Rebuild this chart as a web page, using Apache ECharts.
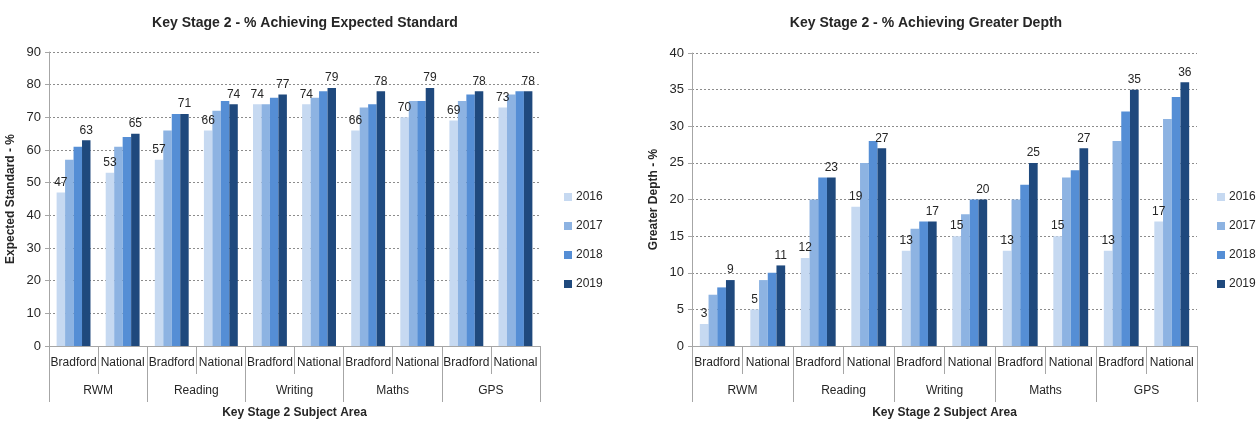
<!DOCTYPE html>
<html>
<head>
<meta charset="utf-8">
<script src="https://cdn.jsdelivr.net/npm/echarts@6/dist/echarts.min.js"></script>
<style>
html, body { margin: 0; padding: 0; background: #fff; }
#chart { width: 1257px; height: 421px; }
</style>
</head>
<body>
<div id="chart"></div>
<script>
// sub categories and subject groups
const areas = ['Bradford', 'National', 'Bradford', 'National', 'Bradford', 'National', 'Bradford', 'National', 'Bradford', 'National'];
const subjects = ['RWM', 'Reading', 'Writing', 'Maths', 'GPS'];
const years = ['2016', '2017', '2018', '2019'];

// % achieving expected standard
const exp2016 = [47, 53, 57, 66, 74, 74, 66, 70, 69, 73];
const exp2017 = [57, 61, 66, 72, 74, 76, 73, 75, 75, 77];
const exp2018 = [61, 64, 71, 75, 76, 78, 74, 75, 77, 78];
const exp2019 = [63, 65, 71, 74, 77, 79, 78, 79, 78, 78];

// % achieving greater depth
const gd2016 = [3, 5, 12, 19, 13, 15, 13, 15, 13, 17];
const gd2017 = [7, 9, 20, 25, 16, 18, 20, 23, 28, 31];
const gd2018 = [8, 10, 23, 28, 17, 20, 22, 24, 32, 34];
const gd2019 = [9, 11, 23, 27, 17, 20, 25, 27, 35, 36];

const colors = ['#c6d9f1', '#8db3e2', '#558ed5', '#1f497d'];
const font = "'Liberation Sans Narrow', 'Liberation Sans', sans-serif";
const textColor = '#262626';
const lineColor = '#a6a6a6';

const myChart = echarts.init(document.getElementById('chart'));

function makeSeries(gridIdx, sets) {
    return sets.map((data, i) => ({
        name: years[i],
        type: 'bar',
        xAxisIndex: gridIdx * 2,
        yAxisIndex: gridIdx,
        barGap: '0%',
        barCategoryGap: '31%',
        itemStyle: { color: colors[i] },
        label: {
            show: i === 0 || i === 3,
            position: 'top',
            distance: 4,
            color: textColor,
            fontSize: 12,
            fontFamily: font
        },
        data: data
    }));
}

function xAxes(gridIdx) {
    return [
        {
            type: 'category',
            gridIndex: gridIdx,
            data: areas,
            axisLine: { show: true, lineStyle: { color: lineColor } },
            axisTick: { show: true, length: 28, interval: 0, lineStyle: { color: lineColor } },
            axisLabel: { interval: 0, margin: 11, color: textColor, fontSize: 12, fontFamily: font }
        },
        {
            type: 'category',
            gridIndex: gridIdx,
            position: 'bottom',
            data: subjects,
            axisLine: { show: false },
            axisTick: { show: true, length: 56, interval: 0, lineStyle: { color: lineColor } },
            axisLabel: { interval: 0, margin: 39, color: textColor, fontSize: 12, fontFamily: font },
            name: 'Key Stage 2 Subject Area',
            nameLocation: 'middle',
            nameGap: 61,
            nameTextStyle: { color: textColor, fontSize: 12, fontWeight: 'bold', fontFamily: font }
        }
    ];
}

function yAxis(gridIdx, name, max, interval) {
    return {
        type: 'value',
        gridIndex: gridIdx,
        min: 0,
        max: max,
        interval: interval,
        name: name,
        nameLocation: 'middle',
        nameRotate: 90,
        nameGap: 32,
        nameTextStyle: { color: textColor, fontSize: 12, fontWeight: 'bold', fontFamily: font },
        axisLine: { show: true, lineStyle: { color: lineColor } },
        axisTick: { show: true, length: 4, lineStyle: { color: lineColor } },
        axisLabel: { color: textColor, fontSize: 13, margin: 8, fontFamily: font },
        splitLine: { show: true, lineStyle: { color: '#8c8c8c', type: [2, 2] } }
    };
}

function legend(left) {
    return {
        orient: 'vertical',
        left: left,
        top: 191,
        padding: 0,
        itemWidth: 8,
        itemHeight: 8,
        itemGap: 17,
        icon: 'rect',
        data: years,
        textStyle: { color: textColor, fontSize: 12, fontFamily: font, padding: [0, 0, 0, -1] }
    };
}

const option = {
    animation: false,
    textStyle: { fontFamily: font },
    title: [
        {
            text: 'Key Stage 2 - % Achieving Expected Standard',
            left: 300, top: 11, textAlign: 'center',
            textStyle: { color: textColor, fontSize: 14, fontWeight: 'bold', fontFamily: font }
        },
        {
            text: 'Key Stage 2 - % Achieving Greater Depth',
            left: 921, top: 11, textAlign: 'center',
            textStyle: { color: textColor, fontSize: 14, fontWeight: 'bold', fontFamily: font }
        }
    ],
    legend: [legend(564), legend(1217)],
    grid: [
        { left: 49, top: 52, width: 491, height: 294, outerBoundsMode: 'none' },
        { left: 692, top: 53, width: 505, height: 293, outerBoundsMode: 'none' }
    ],
    xAxis: [...xAxes(0), ...xAxes(1)],
    yAxis: [
        yAxis(0, 'Expected Standard - %', 90, 10),
        yAxis(1, 'Greater Depth - %', 40, 5)
    ],
    series: [
        ...makeSeries(0, [exp2016, exp2017, exp2018, exp2019]),
        ...makeSeries(1, [gd2016, gd2017, gd2018, gd2019])
    ]
};

myChart.setOption(option);
</script>
</body>
</html>
